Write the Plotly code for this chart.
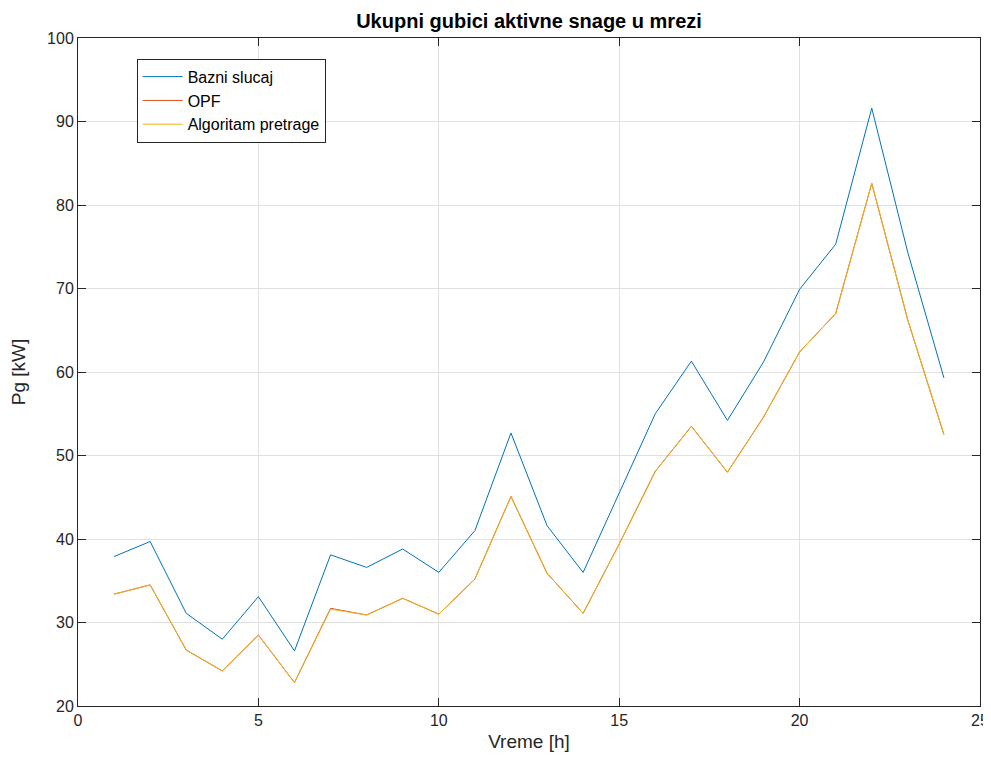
import plotly.graph_objects as go

hours = list(range(1, 25))
bazni = [37.9, 39.7, 31.1, 28.0, 33.1, 26.6, 38.1, 36.6, 38.8, 36.0, 41.0, 52.7,
         41.6, 36.0, 45.5, 55.0, 61.3, 54.2, 61.2, 69.9, 75.3, 91.6, 74.3, 59.3]
opf = [33.4, 34.5, 26.7, 24.2, 28.5, 22.8, 31.7, 30.9, 32.9, 31.0, 35.2, 45.1,
       35.9, 31.1, 39.4, 48.1, 53.5, 48.0, 54.6, 62.4, 67.0, 82.6, 66.2, 52.5]
algoritam = [33.4, 34.5, 26.7, 24.2, 28.5, 22.8, 31.6, 30.9, 32.9, 31.0, 35.2, 45.1,
             35.9, 31.1, 39.4, 48.1, 53.5, 48.0, 54.6, 62.4, 67.0, 82.6, 66.2, 52.5]

FONT = "Liberation Sans, Arial, sans-serif"
AX = "#262626"

# page body has an 8px default margin: size the figure so it fills the window
W, H = 983, 754

fig = go.Figure()
fig.add_trace(go.Scatter(x=hours, y=bazni, mode="lines", name="Bazni slucaj",
                         line=dict(color="#0072BD", width=1)))
fig.add_trace(go.Scatter(x=hours, y=opf, mode="lines", name="OPF",
                         line=dict(color="#D95319", width=1)))
fig.add_trace(go.Scatter(x=hours, y=algoritam, mode="lines", name="Algoritam pretrage",
                         line=dict(color="#EDB120", width=1)))

axis_common = dict(showline=True, linecolor=AX, linewidth=1, mirror="ticks",
                   ticks="inside", ticklen=8, tickcolor=AX, automargin=False,
                   showgrid=True, gridcolor="#e0e0e0", gridwidth=1,
                   zeroline=False, tickfont=dict(family=FONT, size=16, color=AX))

fig.update_layout(
    width=W, height=H,
    paper_bgcolor="white", plot_bgcolor="white",
    margin=dict(l=70, r=11, t=30, b=56),
    title=dict(text="<b>Ukupni gubici aktivne snage u mrezi</b>", x=(70 + 902 / 2) / W, xanchor="center",
               y=1 - 13 / H, yanchor="middle", automargin=False,
               font=dict(family=FONT, size=20, color="black")),
    xaxis=dict(range=[0, 25], tickvals=[0, 5, 10, 15, 20, 25],
               title=dict(text="Vreme [h]", font=dict(family=FONT, size=19, color=AX), standoff=6),
               **axis_common),
    yaxis=dict(range=[20, 100], tickvals=[20, 30, 40, 50, 60, 70, 80, 90, 100],
               title=dict(text="Pg [kW]", font=dict(family=FONT, size=19, color=AX), standoff=16),
               **axis_common),
    legend=dict(x=0.065, y=0.969, xanchor="left", yanchor="top",
                bgcolor="white", bordercolor=AX, borderwidth=1,
                font=dict(family=FONT, size=16, color="black"),
                tracegroupgap=0, itemwidth=40),
    showlegend=True,
)

fig.write_html("out.html")
